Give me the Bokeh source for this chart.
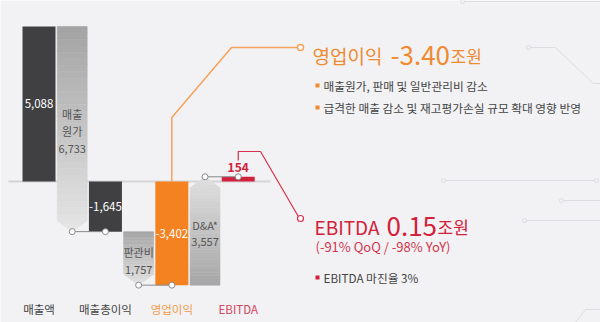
import numpy as np
from bokeh.plotting import figure
from bokeh.models import Range1d, Label
from bokeh.core.properties import value
from bokeh.embed import file_html
from bokeh.resources import INLINE

# ---------------- data (단위: 십억원) ----------------
total_names = ["매출액", "매출총이익", "영업이익", "EBITDA"]
total_values = [5088, -1645, -3402, 154]
total_texts = ["5,088", "-1,645", "-3,402", "154"]
cost_names = ["매출\n원가", "판관비", "D&A*"]
cost_values = [-6733, -1757, 3557]
cost_texts = ["6,733", "1,757", "3,557"]

op_head = ["영업이익", "-3.40", "조원"]
op_bullets = ["매출원가, 판매 및 일반관리비 감소",
              "급격한 매출 감소 및 재고평가손실 규모 확대 영향 반영"]
eb_head = ["EBITDA", "0.15", "조원"]
eb_change = "(-91% QoQ / -98% YoY)"
eb_bullets = ["EBITDA 마진율 3%"]

# ---------------- style ----------------
FONT = "Noto Sans CJK KR"
W, H = 600, 322
BG = "#f2f2f4"
DARK = "#404042"
ORANGE = "#f58220"
RED = "#d3213b"
X0, X1 = -1.16, 16.91
Y0, Y1 = -4627, 5940

def xd(px):
    return X0 + px / W * (X1 - X0)

def yd(py):
    return Y1 - py / H * (Y1 - Y0)

def du(px):
    return px / H * (Y1 - Y0)

def mix(c0, c1, t):
    a = [int(c0[i:i + 2], 16) for i in (1, 3, 5)]
    b = [int(c1[i:i + 2], 16) for i in (1, 3, 5)]
    return "#" + "".join(f"{int(round(x + (y - x) * t)):02x}" for x, y in zip(a, b))

def chevron(xc, half, y_start, y_end, tip, c_start, c_end, n_body=30, n_tip=6):
    d = 1 if y_end > y_start else -1
    y_body = y_end - d * tip

    def width(y):
        if (y - y_body) * d <= 0:
            return half
        return half * abs(y_end - y) / tip

    levels = list(np.linspace(y_start, y_body, n_body + 1)) + list(np.linspace(y_body, y_end, n_tip + 1))[1:]
    xs, ys, cols = [], [], []
    for a, b in zip(levels[:-1], levels[1:]):
        wa, wb = width(a), width(b)
        xs.append([xc - wa, xc + wa, xc + wb, xc - wb])
        ys.append([a, a, b, b])
        t = ((a + b) / 2 - y_start) / (y_end - y_start)
        cols.append(mix(c_start, c_end, t))
    return xs, ys, cols

p = figure(width=W, height=H, x_range=Range1d(X0, X1), y_range=Range1d(Y0, Y1),
           output_backend="svg", toolbar_location=None,
           x_axis_location=None, y_axis_location=None, min_border=0,
           background_fill_color=BG, border_fill_color=BG, outline_line_color=None)
p.grid.visible = False

# decorative faint lines on the right
DECO = "#dcdde1"
deco_paths = [
    ([462, 600], [1, 1]),
    ([528, 555, 593, 600], [47, 47, 83, 83]),
    ([443, 596], [180, 180]),
    ([561, 600], [200, 200]),
    ([524, 600], [220, 220]),
    ([575, 585, 600], [322, 309, 309]),
]
for xs_, ys_ in deco_paths:
    p.line([xd(v) for v in xs_], [yd(v) for v in ys_], line_color=DECO, line_width=1)
deco_pts = [(462, 1), (528, 47), (443, 180), (596, 180), (561, 200), (524, 220)]
p.scatter([xd(a) for a, b in deco_pts], [yd(b) for a, b in deco_pts], marker="circle", size=4,
          fill_color=BG, line_color=DECO, line_width=1)

# baseline
p.line([xd(8), xd(270)], [0, 0], line_color="#d4d4d6", line_width=2)

# waterfall geometry
total_slots = [0, 2, 4, 6]
cost_slots = [1, 3, 5]
total_colors = [DARK, DARK, ORANGE, RED]
cost_grad = [("#a3a3a3", "#e6e6e6"), ("#a6a6a6", "#e2e2e2"), ("#a6a6a6", "#e0e0e0")]
HALF_T = 0.497
HALF_C = 0.45
TIP = du(11)

for s, v, c in zip(total_slots, total_values, total_colors):
    p.quad(left=s - HALF_T, right=s + HALF_T, bottom=min(0, v), top=max(0, v),
           fill_color=c, line_color=None)

cost_starts = []
cost_ends = []
for i, (s, v) in enumerate(zip(cost_slots, cost_values)):
    start = total_values[i]
    end = start + v
    cost_starts.append(start)
    cost_ends.append(end)
    xs, ys, cols = chevron(s, HALF_C, start, end, TIP, *cost_grad[i])
    p.patches(xs, ys, fill_color=cols, line_color=cols, line_width=0.6)

# connectors between steps
for i in range(3):
    xa, xb = cost_slots[i], total_slots[i + 1]
    ya, yb = cost_ends[i], total_values[i + 1]
    p.line([xa, xb], [ya, yb], line_color="#8a8a8a", line_width=1)
    p.scatter([xa, xb], [ya, yb], marker="circle", size=6, fill_color="white",
              line_color="#8a8a8a", line_width=1)

# value labels in bars
for s, v, t in zip(total_slots[:3], total_values[:3], total_texts[:3]):
    p.text([s], [v / 2], text=[t], text_color="white", text_font=value(FONT),
           text_font_size="11.5px", text_align="center", text_baseline="middle")
p.text([total_slots[3]], [total_values[3] + du(9)], text=[total_texts[3]], text_color=RED,
       text_font=value(FONT), text_font_size="12px", text_font_style="bold",
       text_align="center", text_baseline="middle")
for s, a, b, n, t in zip(cost_slots, cost_starts, cost_ends, cost_names, cost_texts):
    p.text([s], [(a + b) / 2 - du(2)], text=[n + "\n" + t], text_color="#555555",
           text_font=value(FONT), text_font_size="11px", text_align="center",
           text_baseline="middle", text_line_height=1.05)

# category labels
cat_colors = ["#444444", "#444444", "#f29a4a", "#d24560"]
for s, n, c in zip(total_slots, total_names, cat_colors):
    p.text([s], [yd(308)], text=[n], text_color=c, text_font=value(FONT),
           text_font_size="11.5px", text_align="center", text_baseline="middle")

# orange call-out
OR_LINE = "#f5a25a"
p.line([total_slots[2], total_slots[2], xd(231), xd(299)], [0, yd(117), yd(47), yd(47)],
       line_color=OR_LINE, line_width=1.5)
p.scatter([xd(300)], [yd(47)], marker="circle", size=6, fill_color="white",
          line_color=OR_LINE, line_width=1.5)

# red call-out
RD_LINE = "#d9304a"
p.line([total_slots[3], total_slots[3], xd(260), xd(299)], [yd(160), yd(151), yd(151), yd(218)],
       line_color=RD_LINE, line_width=1.2)
p.scatter([xd(300)], [yd(218)], marker="circle", size=6, fill_color="white",
          line_color=RD_LINE, line_width=1.2)

def label(x, y, text, size, color, baseline="alphabetic", style="normal"):
    p.add_layout(Label(x=x, y=H - y, x_units="screen", y_units="screen", text=text,
                       text_font=FONT, text_font_size=size, text_color=color,
                       text_baseline=baseline, text_font_style=style))

OR_TXT = "#ef8a30"
label(312, 55, op_head[0], "19px", OR_TXT)
label(390, 55, op_head[1], "26px", OR_TXT)
label(450, 55, op_head[2], "17px", OR_TXT)
for k, txt in enumerate(op_bullets):
    yy = 85 + 22 * k
    label(323, yy, txt, "11.7px", "#444444", baseline="middle")
p.scatter([xd(317), xd(317)], [yd(85), yd(107)], marker="square", size=4,
          fill_color=OR_TXT, line_color=None)

label(314, 226, eb_head[0], "19px", RED)
label(386, 226, eb_head[1], "26px", RED)
label(437, 226, eb_head[2], "17px", RED)
label(315, 246, eb_change, "13px", "#d2364e", baseline="middle")
label(323, 277, eb_bullets[0], "11.7px", "#444444", baseline="middle")
p.scatter([xd(317)], [yd(277)], marker="square", size=4, fill_color=RED, line_color=None)

open("out.html", "w").write(file_html(p, INLINE))
